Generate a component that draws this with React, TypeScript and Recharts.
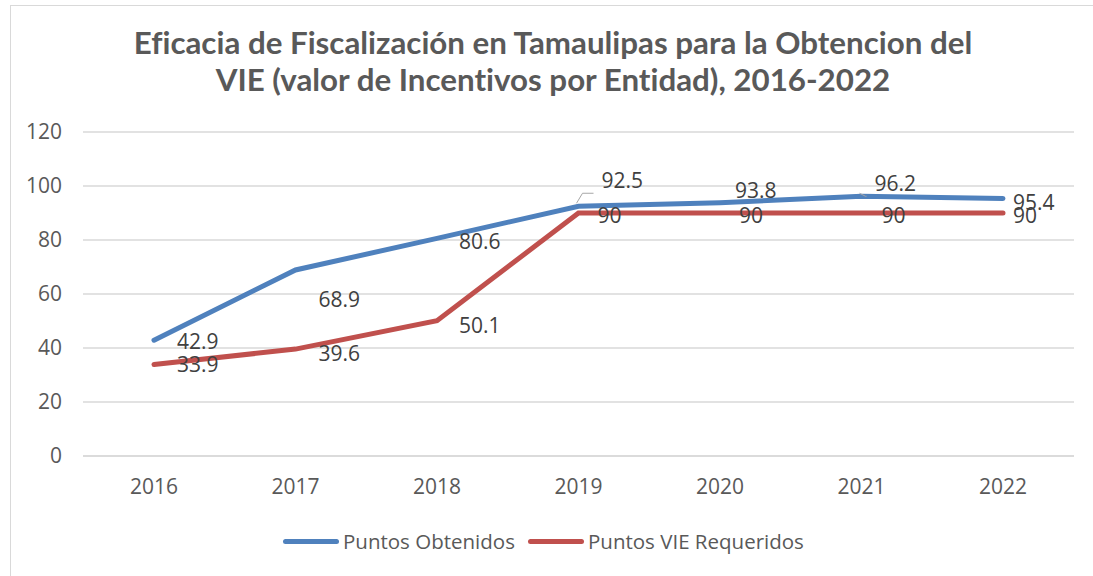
import React from 'react'
import { LineChart, Line, XAxis, YAxis, CartesianGrid, LabelList } from 'recharts'

// ── Data ──────────────────────────────────────────────────────────────────────
const years = ['2016', '2017', '2018', '2019', '2020', '2021', '2022']
const obtenidos = [42.9, 68.9, 80.6, 92.5, 93.8, 96.2, 95.4]
const requeridos = [33.9, 39.6, 50.1, 90, 90, 90, 90]
const yTicks = [0, 20, 40, 60, 80, 100, 120]

const data = years.map((y, i) => ({ year: y, obt: obtenidos[i], req: requeridos[i] }))

const BLUE = '#4F81BD'
const RED = '#C0504D'
const TXT = '#404040'
const AXIS_TXT = '#595959'
const GRID = '#D9D9D9'
const FONT = '"Open Sans", sans-serif'

// label placement, roughly where Excel put them
const blueShift: [number, number][] = [[23, 1], [23, 29], [22, 3], [23, -26], [15, -13], [13, -13], [10, 4]]
const redShift: [number, number][] = [[23, 0], [23, 4], [22, 4], [19, 2], [19, 2], [20, 2], [10, 2]]
const leaders = new Set([3, 5])

function makeLabel(shift: [number, number][], withLeader: boolean) {
  return (props: any) => {
    const { x, y, value, index } = props
    const [dx, dy] = shift[index] ?? [20, 0]
    return (
      <g>
        {withLeader && leaders.has(index) && (
          <polyline
            points={`${x - 2},${y - 3} ${x + 4},${y + dy + 13} ${x + dx - 8},${y + dy + 13}`}
            fill="none" stroke="#A6A6A6" strokeWidth={1}
          />
        )}
        <text x={x + dx} y={y + dy} dominantBaseline="central" textAnchor="start"
          fontSize={21} fill={TXT} fontFamily={FONT}>
          {value}
        </text>
      </g>
    )
  }
}

function LegendItem({ left, color, label }: { left: number; color: string; label: string }) {
  return (
    <div style={{ position: 'absolute', left, top: 527, height: 28, display: 'flex', alignItems: 'center', gap: 4 }}>
      <span style={{ display: 'inline-block', width: 56, height: 5, borderRadius: 3, background: color }} />
      <span style={{ fontSize: 20.5, color: AXIS_TXT, fontFamily: FONT, whiteSpace: 'nowrap' }}>{label}</span>
    </div>
  )
}

export default function App() {
  return (
    <div style={{ position: 'absolute', left: 0, top: 0, width: 1093, height: 576, background: '#fff', overflow: 'hidden' }}>
      <div style={{ position: 'absolute', left: 10, top: 5, width: 1090, height: 600, border: `1px solid ${GRID}` }} />
      <div style={{
        position: 'absolute', left: 0, top: 24, width: 1106, textAlign: 'center',
        fontFamily: 'Lato, sans-serif', fontWeight: 700, fontSize: 31.3, lineHeight: '37px', color: AXIS_TXT,
        fontVariantLigatures: 'none',
      }}>
        Eficacia de Fiscalización en Tamaulipas para la Obtencion del<br />
        VIE (valor de Incentivos por Entidad), 2016-2022
      </div>
      <div style={{ position: 'absolute', left: 0, top: 0 }}>
        <LineChart width={1093} height={576} data={data}
          margin={{ top: 132, right: 19, bottom: 80, left: 0 }}>
          <CartesianGrid vertical={false} stroke={GRID} strokeWidth={1.5} />
          <XAxis dataKey="year" axisLine={{ stroke: GRID, strokeWidth: 1.5 }} tickLine={false}
            padding={{ left: 71, right: 71 }}
            tick={{ fontSize: 21, fill: AXIS_TXT, fontFamily: FONT }} tickMargin={17} height={40} />
          <YAxis domain={[0, 120]} ticks={yTicks} axisLine={false} tickLine={false} width={83}
            tick={{ fontSize: 21, fill: AXIS_TXT, fontFamily: FONT }} tickMargin={15} />
          <Line type="linear" dataKey="obt" stroke={BLUE} strokeWidth={5} strokeLinecap="round"
            dot={false} isAnimationActive={false}>
            <LabelList dataKey="obt" content={makeLabel(blueShift, true)} />
          </Line>
          <Line type="linear" dataKey="req" stroke={RED} strokeWidth={5} strokeLinecap="round"
            dot={false} isAnimationActive={false}>
            <LabelList dataKey="req" content={makeLabel(redShift, false)} />
          </Line>
        </LineChart>
      </div>
      <LegendItem left={283} color={BLUE} label="Puntos Obtenidos" />
      <LegendItem left={528} color={RED} label="Puntos VIE Requeridos" />
    </div>
  )
}
